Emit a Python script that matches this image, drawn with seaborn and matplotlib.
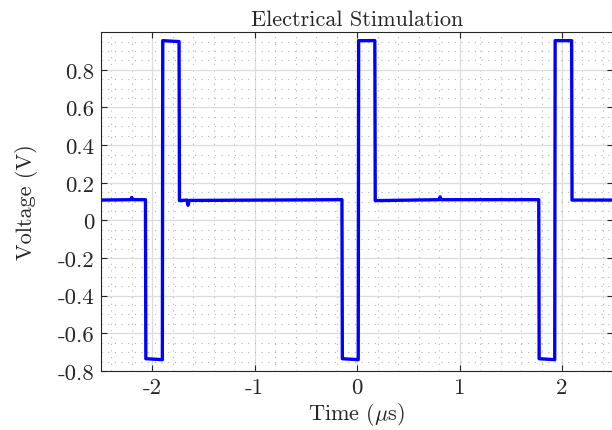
import numpy as np
import pandas as pd
import matplotlib
matplotlib.use("Agg")
import matplotlib.pyplot as plt
import seaborn as sns

# waveform: (time in us, voltage in V) corner points
time_us = [-2.50, -2.21, -2.20, -2.19, -2.066, -2.062, -1.901, -1.897,
           -1.738, -1.734, -1.66, -1.65, -1.64, -0.148, -0.144, 0.011, 0.015,
           0.173, 0.177, 0.80, 0.81, 0.82, 1.773, 1.777, 1.929, 1.933,
           2.094, 2.098, 2.50]
voltage = [0.108, 0.110, 0.122, 0.110, 0.110, -0.735, -0.740, 0.955,
           0.950, 0.105, 0.108, 0.080, 0.106, 0.110, -0.735, -0.740, 0.955,
           0.955, 0.105, 0.110, 0.125, 0.110, 0.110, -0.735, -0.740, 0.955,
           0.955, 0.108, 0.108]

x_ticks = [-2, -1, 0, 1, 2]
x_tick_labels = ["-2", "-1", "0", "1", "2"]
y_ticks = [-0.8, -0.6, -0.4, -0.2, 0, 0.2, 0.4, 0.6, 0.8]
y_tick_labels = ["-0.8", "-0.6", "-0.4", "-0.2", "0", "0.2", "0.4", "0.6", "0.8"]

sns.set_style("ticks")
plt.rcParams.update({
    "font.family": "serif",
    "font.serif": ["cmr10", "DejaVu Serif"],
    "mathtext.fontset": "cm",
    "axes.unicode_minus": False,
    "axes.formatter.use_mathtext": True,
})

df = pd.DataFrame({"t": time_us, "v": voltage})

fig = plt.figure(figsize=(6.12, 4.31), dpi=100)
ax = fig.add_axes([0.165, 0.137, 0.837, 0.786])

sns.lineplot(data=df, x="t", y="v", sort=False, estimator=None,
             color="#0000ff", linewidth=2.4, ax=ax)

ax.set_xlim(-2.5, 2.5)
ax.set_ylim(-0.8, 1.0)
ax.set_xticks(x_ticks)
ax.set_xticklabels(x_tick_labels)
ax.set_yticks(y_ticks)
ax.set_yticklabels(y_tick_labels)
ax.set_xticks(np.arange(-2.4, 2.5, 0.2), minor=True)
ax.set_yticks(np.arange(-0.8, 1.0, 0.05), minor=True)

ax.grid(which="major", color="#dcdcdc", linewidth=0.9, linestyle="-")
ax.grid(which="minor", color="#b4b4b4", linewidth=0.8, linestyle=(0, (1, 5)))
ax.set_axisbelow(True)

ax.tick_params(which="major", direction="in", length=4, width=0.8,
               top=True, right=True, labelsize=16.5, colors="#262626", pad=5)
ax.tick_params(which="minor", length=0)
for s in ax.spines.values():
    s.set_color("#262626")
    s.set_linewidth(0.8)

ax.set_xlabel(r"Time ($\mu$s)", fontsize=16, color="#262626", labelpad=2)
ax.set_ylabel("Voltage (V)", fontsize=16, color="#262626", labelpad=14)
ax.set_title("Electrical Stimulation", fontsize=16, color="#262626", pad=5)

fig.savefig("out.png", dpi=100)
